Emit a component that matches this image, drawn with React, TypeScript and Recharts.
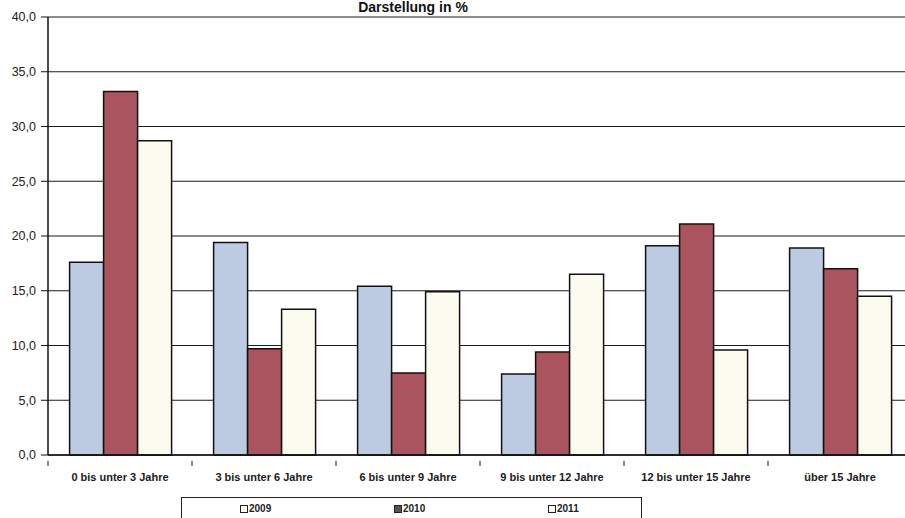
import React from "react";
import { BarChart, Bar, XAxis, YAxis, CartesianGrid } from "recharts";

const categories = [
  "0 bis unter 3 Jahre",
  "3 bis unter 6 Jahre",
  "6 bis unter 9 Jahre",
  "9 bis unter 12 Jahre",
  "12 bis unter 15 Jahre",
  "über 15 Jahre",
];
const values2009 = [17.6, 19.4, 15.4, 7.4, 19.1, 18.9];
const values2010 = [33.2, 9.7, 7.5, 9.4, 21.1, 17.0];
const values2011 = [28.7, 13.3, 14.9, 16.5, 9.6, 14.5];
const yTicks = [0, 5, 10, 15, 20, 25, 30, 35, 40];
const seriesNames = ["2009", "2010", "2011"];
const seriesColors = ["#bccbe1", "#a9545f", "#fcfbef"];
const title = "Darstellung in %";

const data = categories.map((c, i) => ({
  name: c,
  v2009: values2009[i],
  v2010: values2010[i],
  v2011: values2011[i],
}));

const FONT = "'Liberation Sans', Arial, sans-serif";
const NARROW = "'Liberation Sans Narrow', 'Liberation Sans', Arial, sans-serif";

const fmt = (v: number) => v.toFixed(1).replace(".", ",");

// category width used to place the separator tick marks between groups
const BAND = 144;

const CategoryTick = (props: any) => {
  const { x, y, payload } = props;
  return (
    <g>
      <line x1={x - BAND / 2} y1={y - 2} x2={x - BAND / 2} y2={y + 3} stroke="#111" strokeWidth={1} />
      <text
        x={x}
        y={y + 18}
        textAnchor="middle"
        fontFamily={NARROW}
        fontWeight="bold"
        fontSize={11}
        fill="#1a1a1a"
      >
        {payload.value}
      </text>
    </g>
  );
};

export default function App() {
  return (
    <div
      style={{
        position: "absolute",
        left: 0,
        top: 0,
        width: 905,
        height: 518,
        overflow: "hidden",
        background: "#ffffff",
      }}
    >
      <div
        style={{
          position: "absolute",
          left: 0,
          width: 826,
          top: 0,
          textAlign: "center",
          fontFamily: FONT,
          fontWeight: "bold",
          fontSize: 14,
          color: "#111",
          lineHeight: "15px",
        }}
      >
        {title}
      </div>
      <BarChart
        width={915}
        height={518}
        data={data}
        margin={{ top: 17, right: 3, bottom: 33, left: 0 }}
        barCategoryGap="15%"
        barGap={0}
      >
        <CartesianGrid vertical={false} stroke="#1a1a1a" strokeWidth={1.2} />
        <XAxis
          dataKey="name"
          height={30}
          tick={<CategoryTick />}
          tickLine={false}
          axisLine={{ stroke: "#111", strokeWidth: 1.5 }}
          interval={0}
        />
        <YAxis
          width={48}
          domain={[0, 40]}
          ticks={yTicks}
          tickFormatter={fmt}
          tickSize={7}
          tickMargin={5}
          tickLine={{ stroke: "#111" }}
          axisLine={{ stroke: "#111", strokeWidth: 1.5 }}
          tick={{ fontFamily: FONT, fontSize: 12.5, fill: "#222" }}
        />
        <Bar dataKey="v2009" fill={seriesColors[0]} stroke="#111" strokeWidth={1.5} isAnimationActive={false} />
        <Bar dataKey="v2010" fill={seriesColors[1]} stroke="#111" strokeWidth={1.5} isAnimationActive={false} />
        <Bar dataKey="v2011" fill={seriesColors[2]} stroke="#111" strokeWidth={1.5} isAnimationActive={false} />
      </BarChart>
      <div
        style={{
          position: "absolute",
          left: 181,
          top: 497,
          width: 461,
          height: 30,
          border: "1.5px solid #222",
          boxSizing: "border-box",
        }}
      >
        {seriesNames.map((n, i) => (
          <div
            key={n}
            style={{
              position: "absolute",
              left: [58, 212, 366][i],
              top: 5,
              display: "flex",
              alignItems: "center",
              fontFamily: NARROW,
              fontWeight: "bold",
              fontSize: 10,
              color: "#222",
            }}
          >
            <span
              style={{
                display: "inline-block",
                width: 6,
                height: 6,
                border: "1px solid #222",
                background: i === 1 ? "#555" : "#fff",
                marginRight: 1,
              }}
            />
            {n}
          </div>
        ))}
      </div>
    </div>
  );
}
